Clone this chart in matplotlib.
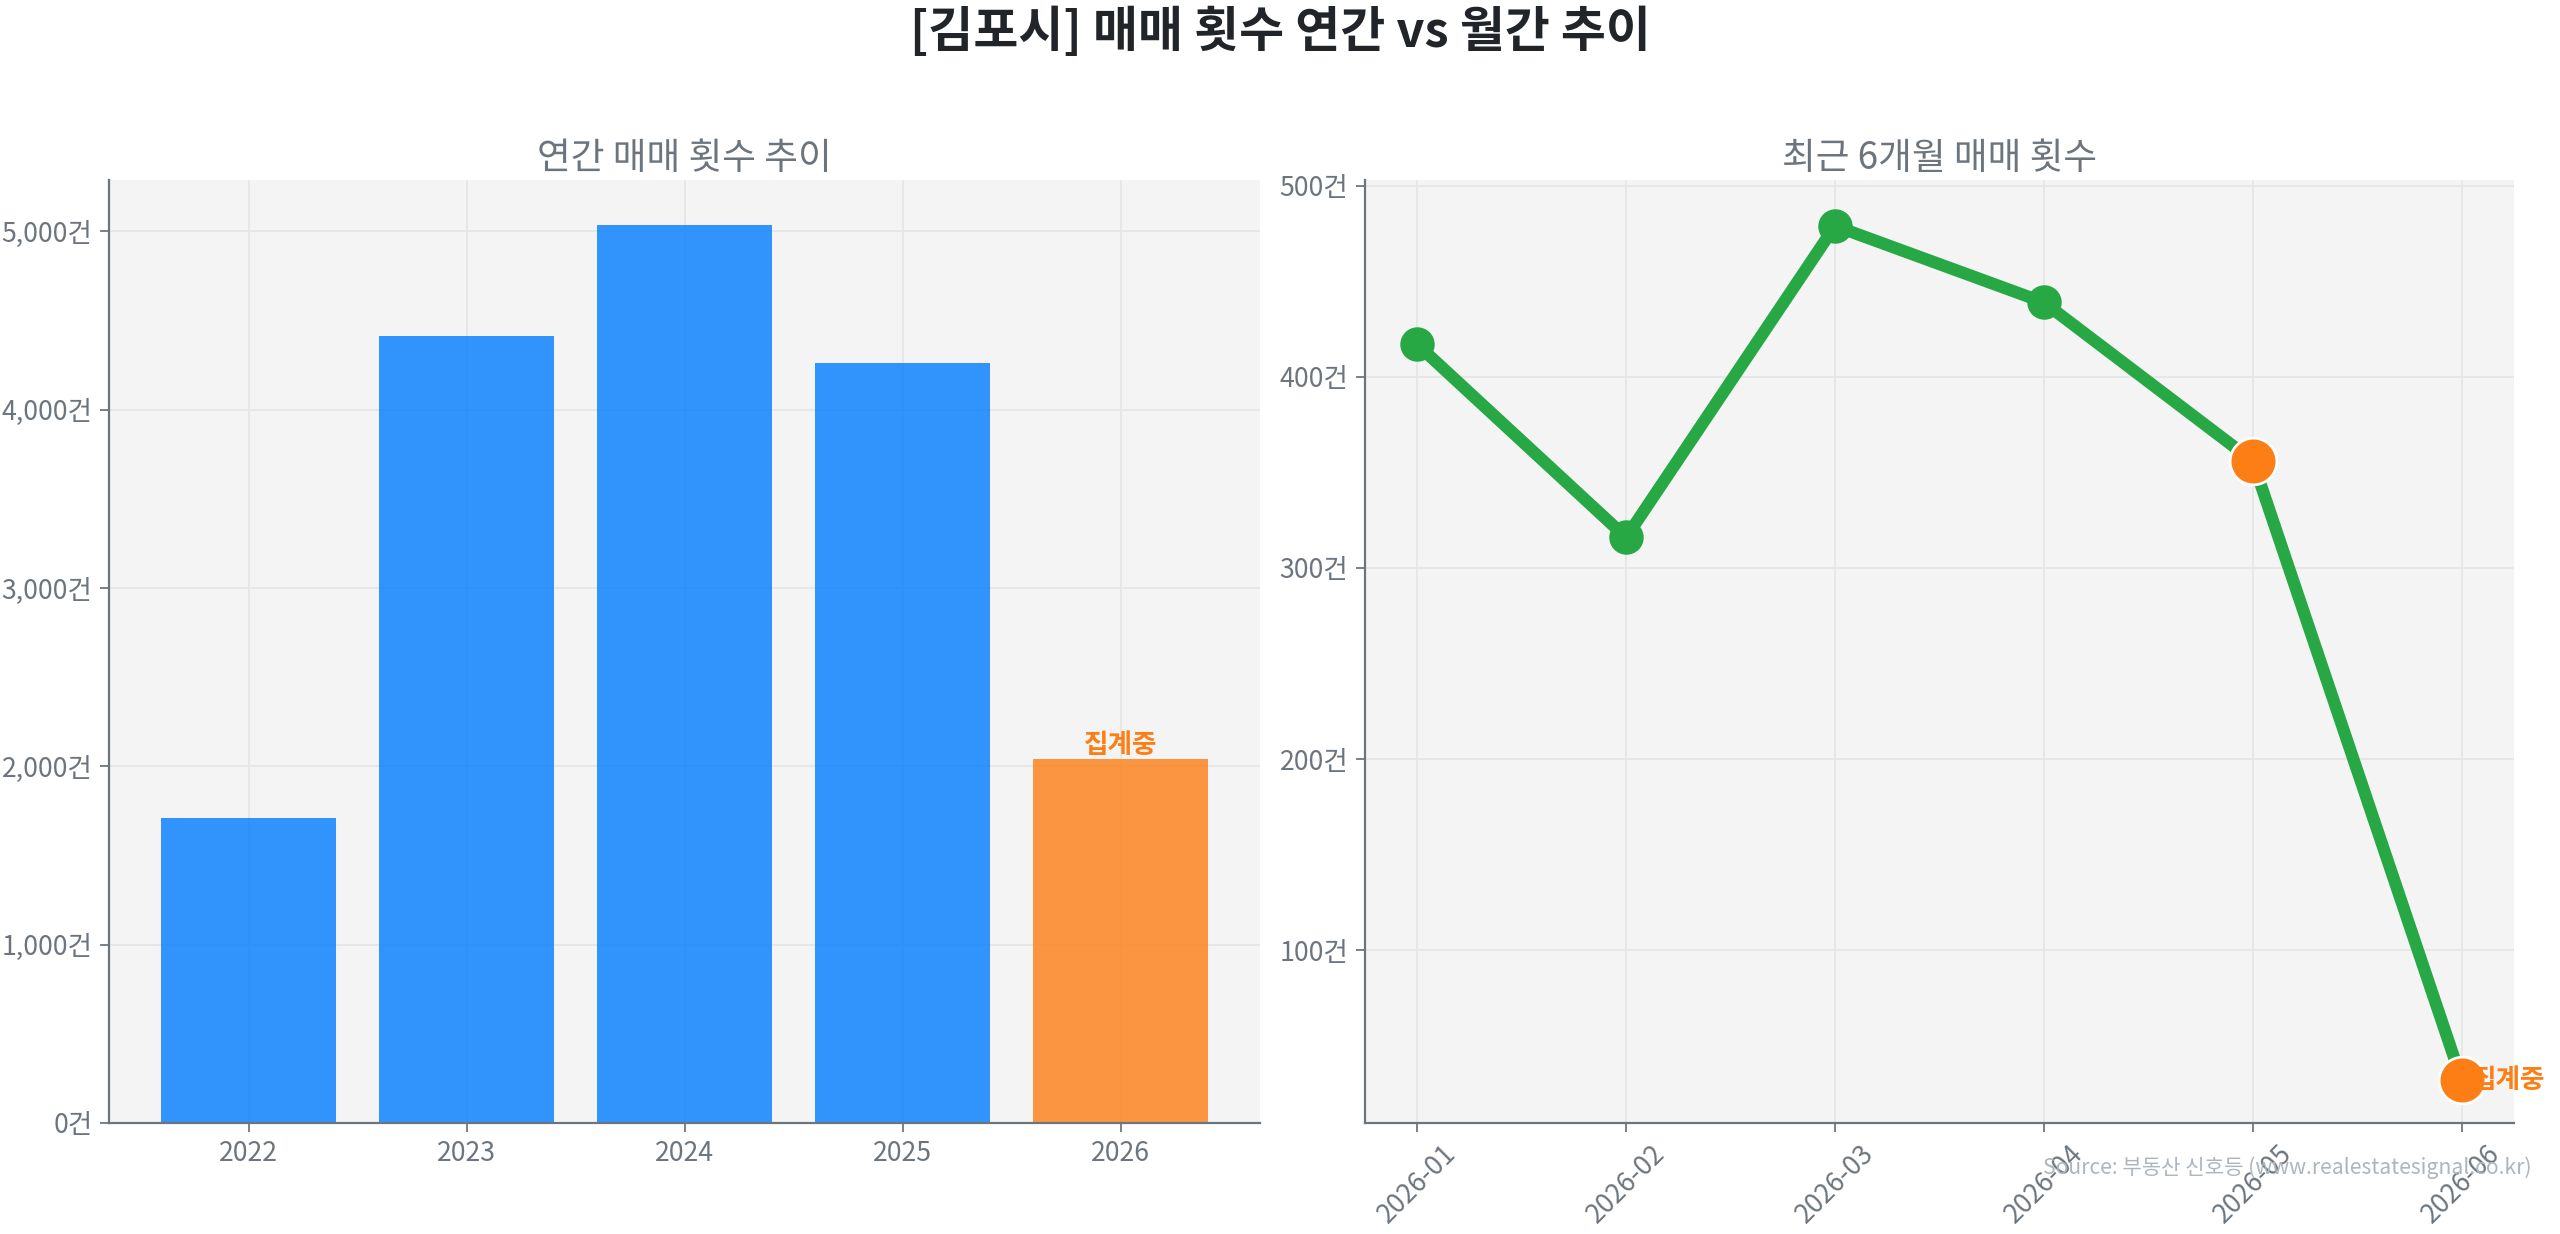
import matplotlib
matplotlib.use('Agg')
import matplotlib.pyplot as plt
from matplotlib.ticker import FuncFormatter

plt.rcParams['font.family'] = ['Noto Sans CJK KR', 'DejaVu Sans']

# data
years = ['2022', '2023', '2024', '2025', '2026']
year_counts = [1709, 4415, 5035, 4260, 2039]
year_partial = [False, False, False, False, True]

months = ['2026-01', '2026-02', '2026-03', '2026-04', '2026-05', '2026-06']
month_counts = [417, 316, 479, 439, 356, 32]
month_partial = [False, False, False, False, True, True]

title = '[김포시] 매매 횟수 연간 vs 월간 추이'
source = 'Source: 부동산 신호등 (www.realestatesignal.co.kr)'

gray = '#6c757d'
blue = '#007bff'
orange = '#fd7e14'
green = '#28a745'

fig = plt.figure(figsize=(16, 7.7125), dpi=160)
ax1 = fig.add_axes([0.0426, 0.090, 0.4496, 0.764])
ax2 = fig.add_axes([0.5332, 0.090, 0.4488, 0.764])

fmt = FuncFormatter(lambda v, p: f'{int(v):,}건')

for ax in (ax1, ax2):
    ax.set_facecolor('#f4f4f4')
    ax.grid(True, color='#e6e6e6', linewidth=0.8)
    ax.set_axisbelow(True)
    for s in ('top', 'right'):
        ax.spines[s].set_visible(False)
    for s in ('left', 'bottom'):
        ax.spines[s].set_color(gray)
        ax.spines[s].set_linewidth(1.0)
    ax.tick_params(colors=gray, labelsize=12, length=4)
    ax.yaxis.set_major_formatter(fmt)

# left: yearly bars
colors = [orange if p else blue for p in year_partial]
ax1.bar(years, year_counts, color=colors, alpha=0.8, width=0.8)
ax1.set_ylim(0, max(year_counts) * 1.05)
for i, p in enumerate(year_partial):
    if p:
        ax1.text(i, year_counts[i], '집계중', ha='center', va='bottom',
                 color=orange, fontsize=12, fontweight='bold')
ax1.set_title('연간 매매 횟수 추이', color=gray, fontsize=16.5, pad=5)

# right: monthly line
x = list(range(len(months)))
ax2.plot(x, month_counts, color=green, linewidth=5.5, marker='o',
         markersize=14.5, zorder=3)
for i, p in enumerate(month_partial):
    if p:
        ax2.plot(x[i], month_counts[i], 'o', color=orange, markersize=21,
                 markeredgecolor='white', markeredgewidth=1.2, zorder=4)
ax2.text(x[-1] + 0.05, month_counts[-1], '집계중', ha='left', va='center',
         color=orange, fontsize=12, fontweight='bold', zorder=5)
ax2.set_xticks(x)
ax2.set_xticklabels(months, rotation=45)
ax2.set_ylim(min(month_counts) * 0.3, max(month_counts) * 1.05)
ax2.set_title('최근 6개월 매매 횟수', color=gray, fontsize=16.5, pad=5)

fig.suptitle(title, fontsize=22, fontweight='bold', color='#212529', y=0.995)
fig.text(0.989, 0.054, source, ha='right', va='center', color='#adb5bd',
         fontsize=9.5)

fig.savefig('out.png', dpi=160)
